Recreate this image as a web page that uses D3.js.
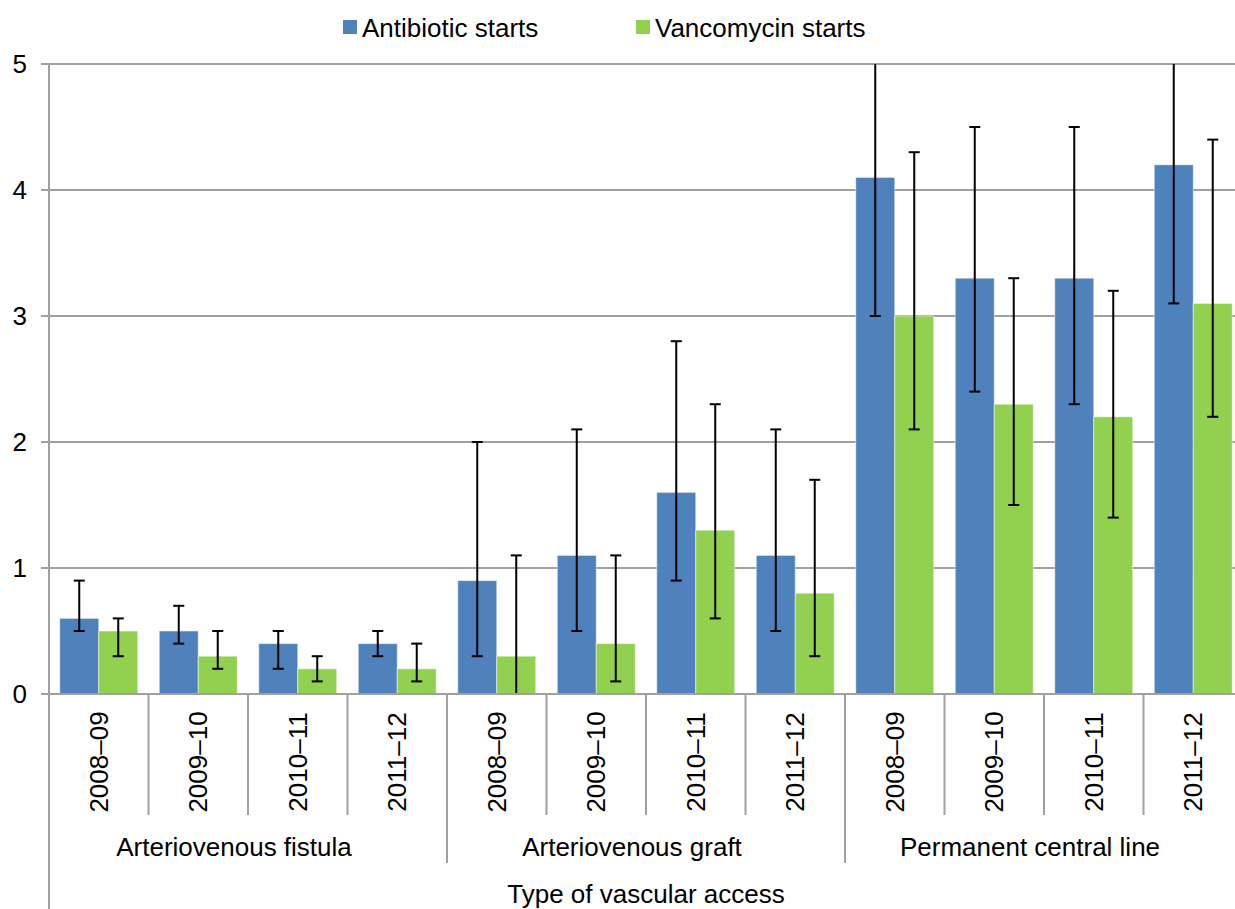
<!DOCTYPE html>
<meta charset="utf-8" />
<script src="https://d3js.org/d3.v7.min.js"></script>
<style>
  body { margin: 0; background: #fff; }
  text { font-family: "Liberation Sans", Arial, sans-serif; fill: #000; }
</style>
<div id="chart"></div>
<script>
  // data
  const groups = ["Arteriovenous fistula", "Arteriovenous graft", "Permanent central line"];
  const years = ["2008\u201309", "2009\u201310", "2010\u201311", "2011\u201312"];
  const seriesNames = ["Antibiotic starts", "Vancomycin starts"];
  const seriesColors = ["#4F81BD", "#92D050"];

  const antibiotic = [0.6, 0.5, 0.4, 0.4, 0.9, 1.1, 1.6, 1.1, 4.1, 3.3, 3.3, 4.2];
  const antibioticLow = [0.5, 0.4, 0.2, 0.3, 0.3, 0.5, 0.9, 0.5, 3.0, 2.4, 2.3, 3.1];
  const antibioticHigh = [0.9, 0.7, 0.5, 0.5, 2.0, 2.1, 2.8, 2.1, 5.2, 4.5, 4.5, 5.3];

  const vancomycin = [0.5, 0.3, 0.2, 0.2, 0.3, 0.4, 1.3, 0.8, 3.0, 2.3, 2.2, 3.1];
  const vancomycinLow = [0.3, 0.2, 0.1, 0.1, 0.0, 0.1, 0.6, 0.3, 2.1, 1.5, 1.4, 2.2];
  const vancomycinHigh = [0.6, 0.5, 0.3, 0.4, 1.1, 1.1, 2.3, 1.7, 4.3, 3.3, 3.2, 4.4];

  const yTicks = [0, 1, 2, 3, 4, 5];

  const W = 1235, H = 909;
  const margin = { top: 64, left: 49 };
  const plotRight = 1243; // plot runs slightly past the picture edge
  const plotBottom = 694;
  const fontSize = "26px";

  // build rows: one per category (group x year)
  const cats = [];
  groups.forEach((g, gi) => {
    years.forEach((yr, yi) => {
      const i = gi * years.length + yi;
      cats.push({
        id: i, group: g, year: yr,
        values: [
          { s: 0, v: antibiotic[i], lo: antibioticLow[i], hi: antibioticHigh[i] },
          { s: 1, v: vancomycin[i], lo: vancomycinLow[i], hi: vancomycinHigh[i] }
        ]
      });
    });
  });

  const svg = d3.select("#chart").append("svg")
    .attr("width", W).attr("height", H);

  svg.append("defs").append("clipPath").attr("id", "plotclip")
    .append("rect")
    .attr("x", margin.left).attr("y", margin.top)
    .attr("width", plotRight - margin.left)
    .attr("height", plotBottom - margin.top);

  const x = d3.scaleBand().domain(cats.map(d => d.id))
    .range([margin.left, plotRight]).padding(0);
  const xs = d3.scaleBand().domain([0, 1])
    .range([0, x.bandwidth()]).paddingInner(0).paddingOuter(0.276);
  const y = d3.scaleLinear().domain([0, 5]).range([plotBottom, margin.top]);

  const gridColor = "#A0A0A0";

  // gridlines
  svg.append("g")
    .selectAll("line")
    .data(yTicks)
    .join("line")
    .attr("x1", margin.left - 8).attr("x2", W)
    .attr("y1", d => y(d)).attr("y2", d => y(d))
    .attr("stroke", gridColor).attr("stroke-width", 2);

  // y tick labels
  svg.append("g")
    .selectAll("text")
    .data(yTicks)
    .join("text")
    .attr("x", 27).attr("y", d => y(d))
    .attr("dy", "0.35em")
    .attr("text-anchor", "end")
    .style("font-size", fontSize)
    .text(d => d);

  // bars
  const catG = svg.append("g").attr("clip-path", "url(#plotclip)")
    .selectAll("g")
    .data(cats)
    .join("g")
    .attr("transform", d => `translate(${x(d.id)},0)`);

  catG.selectAll("rect")
    .data(d => d.values)
    .join("rect")
    .attr("x", d => xs(d.s))
    .attr("width", xs.bandwidth())
    .attr("y", d => y(d.v))
    .attr("height", d => y(0) - y(d.v))
    .attr("fill", d => seriesColors[d.s])
    .attr("stroke", "#ffffff")
    .attr("stroke-opacity", 0.5)
    .attr("stroke-width", 1);

  // error bars
  const cap = 5.5;
  const err = catG.selectAll("g.err")
    .data(d => d.values)
    .join("g")
    .attr("class", "err")
    .attr("stroke", "#000")
    .attr("stroke-width", 2);
  err.append("line")
    .attr("x1", d => xs(d.s) + xs.bandwidth() / 2)
    .attr("x2", d => xs(d.s) + xs.bandwidth() / 2)
    .attr("y1", d => y(d.lo)).attr("y2", d => y(d.hi));
  err.append("line")
    .attr("x1", d => xs(d.s) + xs.bandwidth() / 2 - cap)
    .attr("x2", d => xs(d.s) + xs.bandwidth() / 2 + cap)
    .attr("y1", d => y(d.lo)).attr("y2", d => y(d.lo));
  err.append("line")
    .attr("x1", d => xs(d.s) + xs.bandwidth() / 2 - cap)
    .attr("x2", d => xs(d.s) + xs.bandwidth() / 2 + cap)
    .attr("y1", d => y(d.hi)).attr("y2", d => y(d.hi));

  // x axis line over the bars
  svg.append("line")
    .attr("x1", margin.left - 8).attr("x2", W)
    .attr("y1", y(0)).attr("y2", y(0))
    .attr("stroke", gridColor).attr("stroke-width", 2);

  // y axis line, runs to the bottom of the picture
  svg.append("line")
    .attr("x1", margin.left).attr("x2", margin.left)
    .attr("y1", margin.top).attr("y2", H)
    .attr("stroke", gridColor).attr("stroke-width", 2);

  // category separators
  const yearSepBottom = 815, groupSepBottom = 863;
  svg.append("g")
    .selectAll("line")
    .data(cats.filter(d => d.id > 0))
    .join("line")
    .attr("x1", d => x(d.id)).attr("x2", d => x(d.id))
    .attr("y1", plotBottom)
    .attr("y2", d => (d.id % years.length === 0 ? groupSepBottom : yearSepBottom))
    .attr("stroke", gridColor).attr("stroke-width", 2);

  // year labels, rotated
  svg.append("g")
    .selectAll("text")
    .data(cats)
    .join("text")
    .attr("transform", d => `translate(${x(d.id) + x.bandwidth() / 2},762) rotate(-90)`)
    .attr("dy", "0.35em")
    .attr("text-anchor", "middle")
    .style("font-size", fontSize)
    .text(d => d.year);

  // group labels
  svg.append("g")
    .selectAll("text")
    .data(groups)
    .join("text")
    .attr("x", (d, i) => {
      const first = x(i * years.length);
      const last = x(i * years.length + years.length - 1) + x.bandwidth();
      return (first + last) / 2 - 14;
    })
    .attr("y", 856)
    .attr("text-anchor", "middle")
    .style("font-size", fontSize)
    .text(d => d);

  // axis title
  svg.append("text")
    .attr("x", (margin.left + plotRight) / 2)
    .attr("y", 903)
    .attr("text-anchor", "middle")
    .style("font-size", fontSize)
    .text("Type of vascular access");

  // legend
  const legendX = [343, 636];
  const leg = svg.append("g")
    .selectAll("g")
    .data(seriesNames)
    .join("g")
    .attr("transform", (d, i) => `translate(${legendX[i]},20)`);
  leg.append("rect")
    .attr("width", 14).attr("height", 14)
    .attr("fill", (d, i) => seriesColors[i]);
  leg.append("text")
    .attr("x", 19).attr("y", 17)
    .style("font-size", fontSize)
    .text(d => d);
</script>
